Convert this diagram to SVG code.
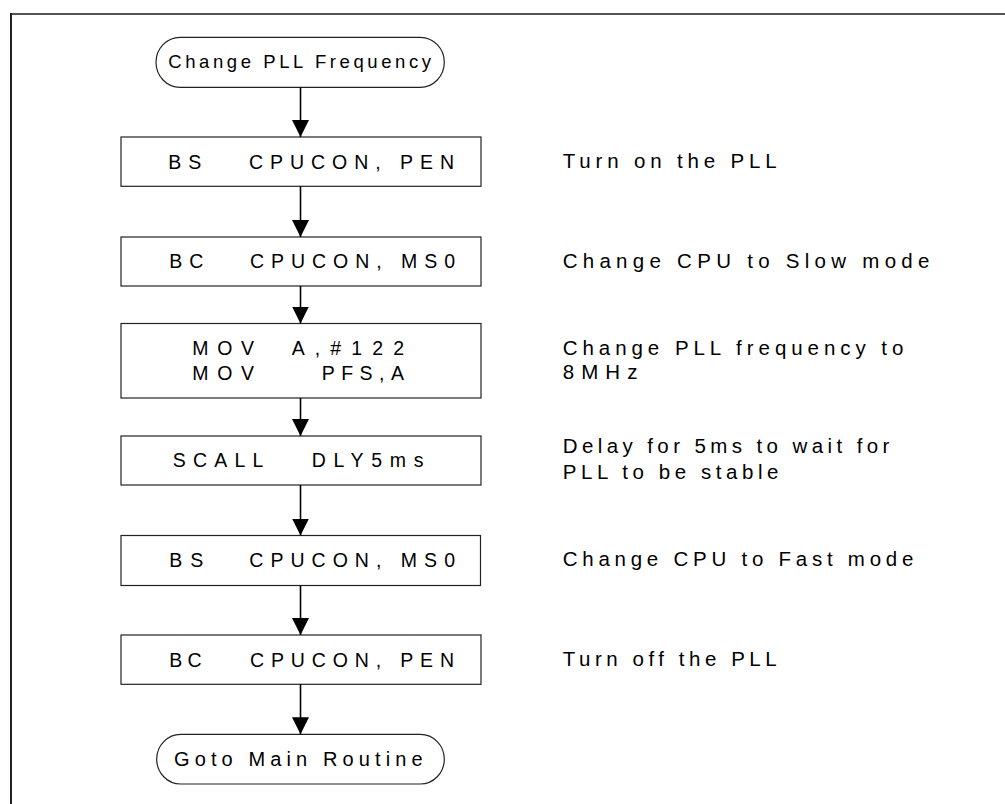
<svg xmlns="http://www.w3.org/2000/svg" width="1005" height="804" viewBox="0 0 1005 804">
<style>
.box{fill:#fff;stroke:#222;stroke-width:1.2}
.term{fill:#fff;stroke:#222;stroke-width:1.2}
.t{font-family:"Liberation Sans",Arial,sans-serif;fill:#000}
.bt{font-size:19.5px}
.rt{font-size:20.5px}
.conn line{stroke:#000;stroke-width:1.6;marker-end:url(#arr)}
</style>
<defs>
<marker id="arr" viewBox="0 0 17 17" refX="17" refY="8.5" markerWidth="17" markerHeight="17" orient="auto" markerUnits="userSpaceOnUse">
<path d="M0,0 L17,8.5 L0,17 z" fill="#000"/>
</marker>
</defs>
<rect width="1005" height="804" fill="#fff"/>
<g id="frame">
<line x1="10" y1="14" x2="1005" y2="14" stroke="#555" stroke-width="2"/>
<line x1="11" y1="13" x2="11" y2="804" stroke="#222" stroke-width="2"/>
</g>
<g id="start">
<rect class="term" x="156" y="37.3" width="288.3" height="50" rx="24" ry="25"/>
<text class="t" x="168.3" y="67.7" font-size="18.5" textLength="262.7" lengthAdjust="spacing">Change PLL Frequency</text>
</g>
<g id="n1">
<rect class="box" x="121" y="137" width="360" height="49.3"/>
<text class="t bt" x="168.3" y="169.3" textLength="33" lengthAdjust="spacing">BS</text>
<text class="t bt" x="249" y="169.3" textLength="205" lengthAdjust="spacing">CPUCON, PEN</text>
</g>
<g id="n2">
<rect class="box" x="121" y="237" width="360" height="49"/>
<text class="t bt" x="169.3" y="268.3" textLength="34" lengthAdjust="spacing">BC</text>
<text class="t bt" x="250" y="268.3" textLength="205" lengthAdjust="spacing">CPUCON, MS0</text>
</g>
<g id="n3">
<rect class="box" x="121" y="323.5" width="360" height="74.5"/>
<text class="t bt" x="192.3" y="355" textLength="61.7" lengthAdjust="spacing">MOV</text>
<text class="t bt" x="291.7" y="355" textLength="112.3" lengthAdjust="spacing">A,#122</text>
<text class="t bt" x="192.3" y="380" textLength="61.7" lengthAdjust="spacing">MOV</text>
<text class="t bt" x="321.7" y="380" textLength="82.3" lengthAdjust="spacing">PFS,A</text>
</g>
<g id="n4">
<rect class="box" x="121" y="436" width="360" height="49"/>
<text class="t bt" x="172.7" y="466.7" textLength="90.7" lengthAdjust="spacing">SCALL</text>
<text class="t bt" x="311.7" y="466.7" textLength="111.7" lengthAdjust="spacing">DLY5ms</text>
</g>
<g id="n5">
<rect class="box" x="121" y="535.5" width="359.5" height="50"/>
<text class="t bt" x="169.3" y="567.3" textLength="34" lengthAdjust="spacing">BS</text>
<text class="t bt" x="249.3" y="567.3" textLength="205.7" lengthAdjust="spacing">CPUCON, MS0</text>
</g>
<g id="n6">
<rect class="box" x="121" y="635" width="360" height="49.3"/>
<text class="t bt" x="169.3" y="667.3" textLength="32.3" lengthAdjust="spacing">BC</text>
<text class="t bt" x="250" y="667.3" textLength="204" lengthAdjust="spacing">CPUCON, PEN</text>
</g>
<g id="end">
<rect class="term" x="156.7" y="734.3" width="287.6" height="49.7" rx="24" ry="24.8"/>
<text class="t" x="174" y="766" font-size="20" textLength="248.7" lengthAdjust="spacing">Goto Main Routine</text>
</g>
<g id="notes">
<text class="t rt" x="562.7" y="168.3" textLength="214" lengthAdjust="spacing">Turn on the PLL</text>
<text class="t rt" x="562.7" y="268.3" textLength="366.7" lengthAdjust="spacing">Change CPU to Slow mode</text>
<text class="t rt" x="562.7" y="355" textLength="340.7" lengthAdjust="spacing">Change PLL frequency to</text>
<text class="t rt" x="562.7" y="379.3" textLength="74.7" lengthAdjust="spacing">8MHz</text>
<text class="t rt" x="562.7" y="453.3" textLength="326.7" lengthAdjust="spacing">Delay for 5ms to wait for</text>
<text class="t rt" x="562.7" y="479" textLength="215.7" lengthAdjust="spacing">PLL to be stable</text>
<text class="t rt" x="562.7" y="566" textLength="350.7" lengthAdjust="spacing">Change CPU to Fast mode</text>
<text class="t rt" x="562.7" y="666" textLength="214" lengthAdjust="spacing">Turn off the PLL</text>
</g>
<g id="connectors" class="conn">
<line x1="300.5" y1="87.3" x2="300.5" y2="137"/>
<line x1="300.5" y1="186.3" x2="300.5" y2="237"/>
<line x1="300.5" y1="286" x2="300.5" y2="323.5"/>
<line x1="300.5" y1="398" x2="300.5" y2="436"/>
<line x1="300.5" y1="485" x2="300.5" y2="535.5"/>
<line x1="300.5" y1="585.5" x2="300.5" y2="635"/>
<line x1="300.5" y1="684.3" x2="300.5" y2="734.3"/>
</g>
</svg>
